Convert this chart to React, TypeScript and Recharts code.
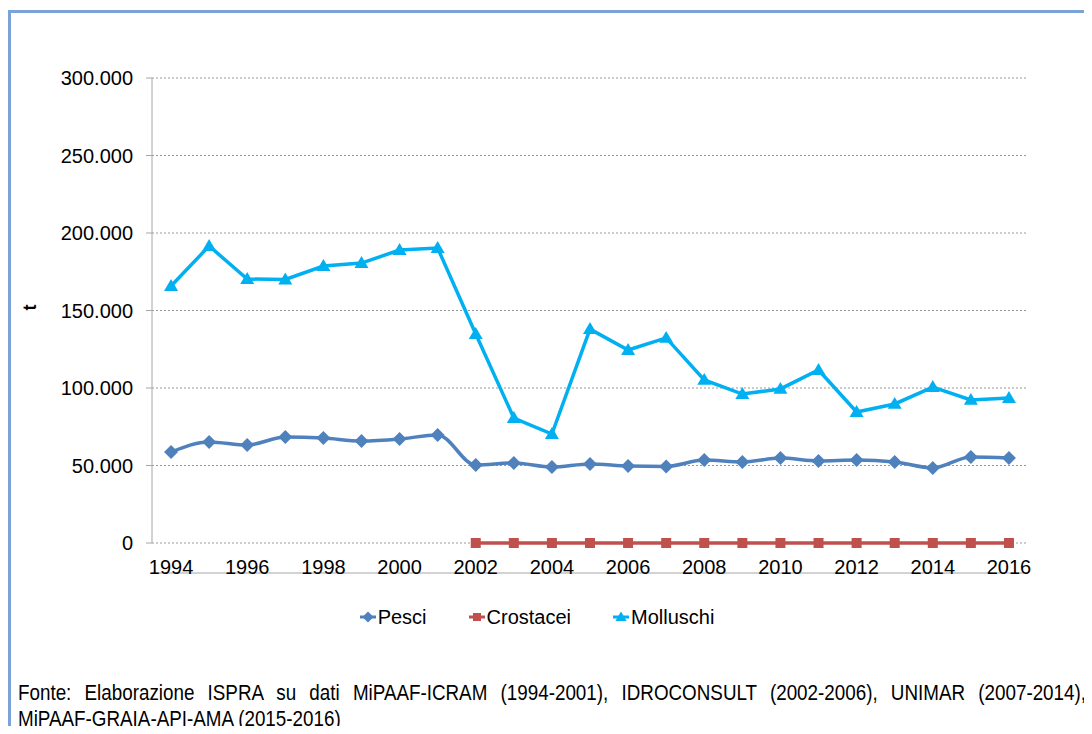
import { LineChart, Line, XAxis, YAxis, CartesianGrid, Legend } from 'recharts'

const YEARS = [
  1994, 1995, 1996, 1997, 1998, 1999, 2000, 2001, 2002, 2003, 2004, 2005,
  2006, 2007, 2008, 2009, 2010, 2011, 2012, 2013, 2014, 2015, 2016,
]
const PESCI = [
  58700, 65200, 63200, 68400, 67700, 65800, 67100, 69700, 50300, 51600, 49000, 51000,
  49700, 49400, 53500, 52300, 54800, 52900, 53500, 52300, 48400, 55500, 54800,
]
const CROSTACEI = [
  null, null, null, null, null, null, null, null, 0, 0, 0, 0,
  0, 0, 0, 0, 0, 0, 0, 0, 0, 0, 0,
]
const MOLLUSCHI = [
  165800, 191600, 170300, 170000, 178700, 180600, 189000, 190300, 134800, 80600, 70300, 138000,
  124500, 132300, 105200, 96100, 99400, 111600, 84500, 89700, 100600, 92300, 93500,
]
const Y_TICKS = [0, 50000, 100000, 150000, 200000, 250000, 300000]

const SERIES = [
  { key: 'pesci', name: 'Pesci', color: '#4f81bd', shape: 'diamond' },
  { key: 'crostacei', name: 'Crostacei', color: '#c0504d', shape: 'square' },
  { key: 'molluschi', name: 'Molluschi', color: '#00b0f0', shape: 'triangle' },
]

const data = YEARS.map((year, i) => ({
  year,
  pesci: PESCI[i],
  crostacei: CROSTACEI[i],
  molluschi: MOLLUSCHI[i],
}))

// tick marks sit between categories, labels on every other year
const boundaryTicks = [...YEARS.map((y) => y - 0.5), YEARS[YEARS.length - 1] + 0.5]
const labelTicks = YEARS.filter((y) => y % 2 === 0)
const X_DOMAIN = [YEARS[0] - 0.5, YEARS[YEARS.length - 1] + 0.5]

const AXIS_GRAY = '#a6a6a6'
const FONT = '"Liberation Sans", Arial, sans-serif'

function fmt(v: number) {
  return String(v).replace(/\B(?=(\d{3})+(?!\d))/g, '.')
}

function Marker({ shape, cx, cy, color, s = 1 }: any) {
  if (cx == null || cy == null) return null
  if (shape === 'diamond') {
    const r = 7 * s
    return <path d={`M${cx},${cy - r}L${cx + r},${cy}L${cx},${cy + r}L${cx - r},${cy}Z`} fill={color} />
  }
  if (shape === 'square') {
    const r = 5 * s
    return <rect x={cx - r} y={cy - r} width={r * 2} height={r * 2} fill={color} />
  }
  const r = 7 * s
  return <path d={`M${cx},${cy - r}L${cx + r},${cy + r * 0.7}L${cx - r},${cy + r * 0.7}Z`} fill={color} />
}

function LegendContent() {
  return (
    <div
      style={{
        display: 'flex',
        justifyContent: 'center',
        gap: 42,
        height: 50,
        paddingTop: 21,
        paddingRight: 18,
        boxSizing: 'border-box',
        fontFamily: FONT,
        fontSize: 20,
        lineHeight: '20px',
        color: '#000',
      }}
    >
      {SERIES.map((s) => (
        <div key={s.key} style={{ display: 'flex', alignItems: 'center' }}>
          <svg width={16} height={16} style={{ marginRight: 2 }}>
            <line x1={0} y1={8} x2={16} y2={8} stroke={s.color} strokeWidth={3} />
            <Marker shape={s.shape} cx={8} cy={8} color={s.color} s={0.8} />
          </svg>
          <span>{s.name}</span>
        </div>
      ))}
    </div>
  )
}

export default function App() {
  return (
    <div
      style={{
        position: 'relative',
        width: 1092,
        height: 734,
        margin: -8,
        overflow: 'hidden',
        background: '#fff',
        fontFamily: FONT,
      }}
    >
      <div
        style={{
          position: 'absolute',
          left: 8,
          top: 10,
          width: 1110,
          height: 760,
          border: '3px solid #7aa3da',
        }}
      />
      <div style={{ position: 'absolute', left: 0, top: 0 }}>
        <LineChart
          width={1092}
          height={640}
          data={data}
          margin={{ top: 78, right: 64, left: 22, bottom: 9 }}
        >
          <CartesianGrid vertical={false} stroke="#999" strokeDasharray="2 2" />
          <XAxis
            xAxisId="main"
            dataKey="year"
            type="number"
            domain={X_DOMAIN}
            ticks={boundaryTicks}
            tick={false}
            height={8}
            tickSize={6}
            stroke={AXIS_GRAY}
            axisLine={{ stroke: AXIS_GRAY }}
            tickLine={{ stroke: AXIS_GRAY }}
          />
          <XAxis
            xAxisId="labels"
            dataKey="year"
            type="number"
            domain={X_DOMAIN}
            ticks={labelTicks}
            axisLine={false}
            tickLine={false}
            tickSize={0}
            tickMargin={17}
            height={30}
            interval={0}
            tick={{ fill: '#000', fontSize: 20, fontFamily: FONT }}
          />
          <YAxis
            domain={[0, 300000]}
            ticks={Y_TICKS}
            width={130}
            tickFormatter={fmt}
            tickSize={6}
            tickMargin={13}
            axisLine={{ stroke: AXIS_GRAY }}
            tickLine={{ stroke: AXIS_GRAY }}
            tick={{ fill: '#000', fontSize: 20, fontFamily: FONT }}
            label={{
              value: 't',
              angle: -90,
              position: 'insideLeft',
              offset: 8,
              style: { fill: '#000', fontSize: 18, fontWeight: 'bold', fontFamily: FONT },
            }}
          />
          <Legend
            verticalAlign="bottom"
            wrapperStyle={{ left: 0, width: 1092 }}
            content={() => <LegendContent />}
          />
          {SERIES.map((s) => (
            <Line
              key={s.key}
              xAxisId="main"
              dataKey={s.key}
              name={s.name}
              type={s.key === 'pesci' ? 'monotone' : 'linear'}
              stroke={s.color}
              strokeWidth={3.5}
              connectNulls={false}
              isAnimationActive={false}
              dot={(p: any) => (
                <Marker key={`${s.key}-${p.index}`} shape={s.shape} cx={p.cx} cy={p.cy} color={s.color} />
              )}
              activeDot={false}
            />
          ))}
        </LineChart>
      </div>
      {/* source note: Arial Narrow look, faked by squeezing Liberation Sans */}
      <div
        style={{
          position: 'absolute',
          left: 18,
          top: 680,
          width: 1068 / 0.855,
          transform: 'scaleX(0.855)',
          transformOrigin: 'left top',
          fontFamily: FONT,
          fontSize: 22,
          lineHeight: '25.5px',
          color: '#000',
          whiteSpace: 'nowrap',
        }}
      >
        <div style={{ textAlign: 'justify', textAlignLast: 'justify', whiteSpace: 'normal' }}>
          Fonte: Elaborazione ISPRA su dati MiPAAF-ICRAM (1994-2001), IDROCONSULT (2002-2006), UNIMAR (2007-2014),
        </div>
        <div>MiPAAF-GRAIA-API-AMA (2015-2016)</div>
      </div>
    </div>
  )
}
